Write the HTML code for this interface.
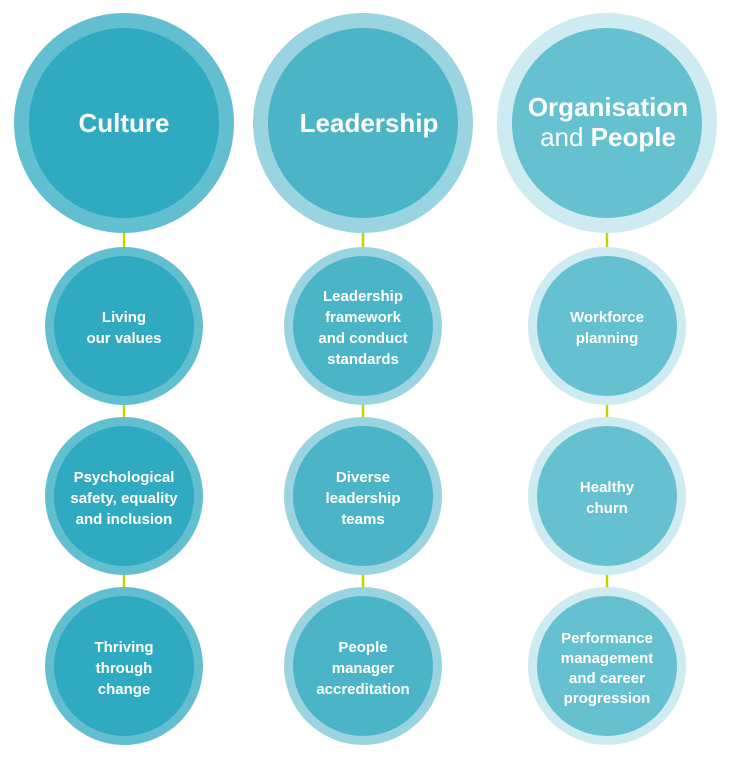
<!DOCTYPE html>
<html><head><meta charset="utf-8"><style>
html,body{margin:0;padding:0;background:#fff;}
svg{display:block;}
text{font-family:"Liberation Sans",sans-serif;fill:#fff;text-anchor:middle;}
.b{font-size:26px;font-weight:bold;}
.s{font-size:15px;font-weight:bold;}
</style></head><body>
<svg width="730" height="761" viewBox="0 0 730 761">
<g stroke="#c5d300" stroke-width="2.5">
<line x1="124" y1="230" x2="124" y2="600"/>
<line x1="363" y1="230" x2="363" y2="600"/>
<line x1="607" y1="230" x2="607" y2="600"/>
</g>
<circle cx="124" cy="123" r="110" fill="#62bfcf"/><circle cx="124" cy="123" r="95" fill="#2faac0"/>
<circle cx="124" cy="326" r="79" fill="#62bfcf"/><circle cx="124" cy="326" r="70" fill="#2faac0"/>
<circle cx="124" cy="496" r="79" fill="#62bfcf"/><circle cx="124" cy="496" r="70" fill="#2faac0"/>
<circle cx="124" cy="666" r="79" fill="#62bfcf"/><circle cx="124" cy="666" r="70" fill="#2faac0"/>
<circle cx="363" cy="123" r="110" fill="#9ad4e0"/><circle cx="363" cy="123" r="95" fill="#4bb5c7"/>
<circle cx="363" cy="326" r="79" fill="#9ad4e0"/><circle cx="363" cy="326" r="70" fill="#4bb5c7"/>
<circle cx="363" cy="496" r="79" fill="#9ad4e0"/><circle cx="363" cy="496" r="70" fill="#4bb5c7"/>
<circle cx="363" cy="666" r="79" fill="#9ad4e0"/><circle cx="363" cy="666" r="70" fill="#4bb5c7"/>
<circle cx="607" cy="123" r="110" fill="#cdebf0"/><circle cx="607" cy="123" r="95" fill="#65c0cf"/>
<circle cx="607" cy="326" r="79" fill="#cdebf0"/><circle cx="607" cy="326" r="70" fill="#65c0cf"/>
<circle cx="607" cy="496" r="79" fill="#cdebf0"/><circle cx="607" cy="496" r="70" fill="#65c0cf"/>
<circle cx="607" cy="666" r="79" fill="#cdebf0"/><circle cx="607" cy="666" r="70" fill="#65c0cf"/>

<text class="b" x="124" y="132">Culture</text>
<text class="b" x="369" y="132">Leadership</text>
<text class="b" x="608" y="116">Organisation</text>
<text class="b" x="608" y="146"><tspan style="font-weight:normal">and </tspan>People</text>

<text class="s"><tspan x="124" y="322">Living</tspan><tspan x="124" y="343">our values</tspan></text>
<text class="s"><tspan x="124" y="482">Psychological</tspan><tspan x="124" y="503">safety, equality</tspan><tspan x="124" y="524">and inclusion</tspan></text>
<text class="s"><tspan x="124" y="652">Thriving</tspan><tspan x="124" y="673">through</tspan><tspan x="124" y="694">change</tspan></text>

<text class="s"><tspan x="363" y="301">Leadership</tspan><tspan x="363" y="322">framework</tspan><tspan x="363" y="343">and conduct</tspan><tspan x="363" y="364">standards</tspan></text>
<text class="s"><tspan x="363" y="482">Diverse</tspan><tspan x="363" y="503">leadership</tspan><tspan x="363" y="524">teams</tspan></text>
<text class="s"><tspan x="363" y="652">People</tspan><tspan x="363" y="673">manager</tspan><tspan x="363" y="694">accreditation</tspan></text>

<text class="s"><tspan x="607" y="322">Workforce</tspan><tspan x="607" y="343">planning</tspan></text>
<text class="s"><tspan x="607" y="492">Healthy</tspan><tspan x="607" y="513">churn</tspan></text>
<text class="s"><tspan x="607" y="643">Performance</tspan><tspan x="607" y="663">management</tspan><tspan x="607" y="683">and career</tspan><tspan x="607" y="703">progression</tspan></text>
</svg>
</body></html>
